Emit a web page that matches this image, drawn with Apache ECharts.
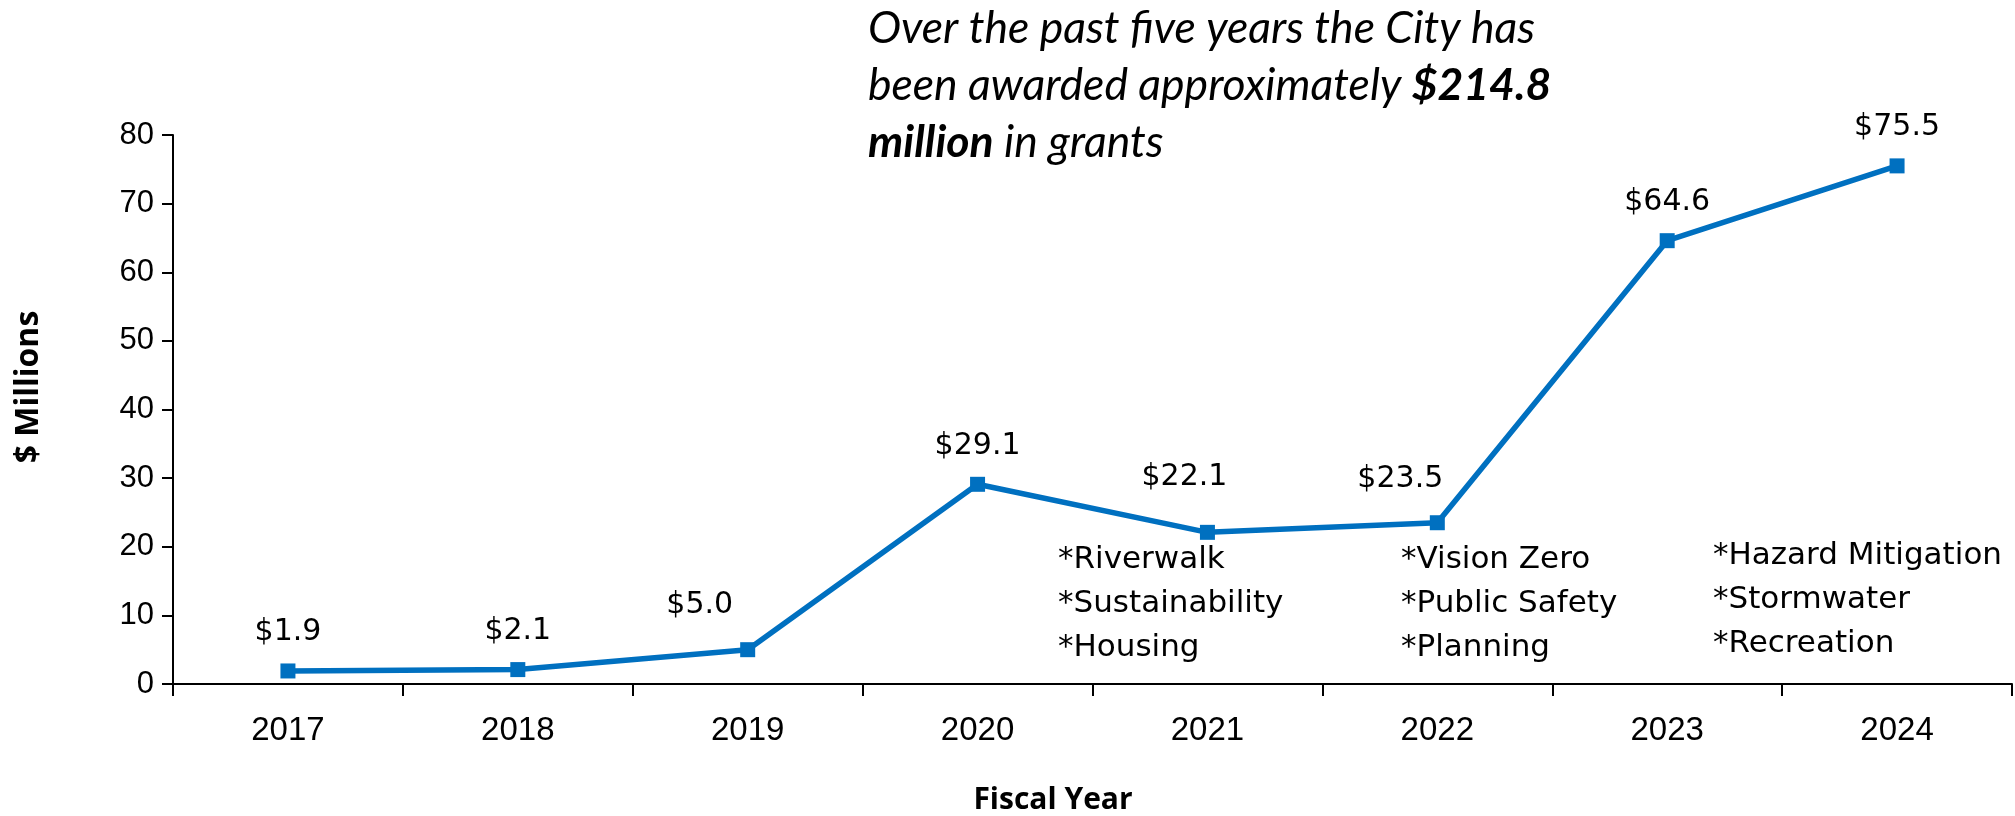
<!DOCTYPE html>
<html>
<head>
<meta charset="utf-8">
<title>City Grants Awarded by Fiscal Year</title>
<script src="https://cdn.jsdelivr.net/npm/echarts@6/dist/echarts.min.js"></script>
<style>
  html, body { margin: 0; padding: 0; background: #ffffff; }
  #chart { width: 2015px; height: 816px; }
</style>
</head>
<body>
<div id="chart"></div>
<script>
// Grant awards per fiscal year, in millions of dollars
const fiscalYears = ['2017', '2018', '2019', '2020', '2021', '2022', '2023', '2024'];
const grantMillions = [1.9, 2.1, 5.0, 29.1, 22.1, 23.5, 64.6, 75.5];

// Value axis range
const yMin = 0;
const yMax = 80;
const yStep = 10;

// Grant program notes shown under the later years
const notes2021 = ['*Riverwalk', '*Sustainability', '*Housing'];
const notes2022 = ['*Vision Zero', '*Public Safety', '*Planning'];
const notes2024 = ['*Hazard Mitigation', '*Stormwater', '*Recreation'];

// Per-point nudges for the value labels so they clear the line
const labelShift = [[0, 0], [0, 0], [-48, -6], [0, 0], [-23, -17], [-37, -5], [0, 0], [0, 0]];

const blue = '#0070C0';
const labelFont = '"DejaVu Sans", "Open Sans", sans-serif';
const tickFont = '"Liberation Sans", Arial, sans-serif';
const boldFont = '"Open Sans", "Noto Sans", sans-serif';
const headlineFont = 'Lato, "Open Sans", sans-serif';

const chart = echarts.init(document.getElementById('chart'), null, { renderer: 'canvas' });

function noteBlock(lines, x, y) {
  return {
    type: 'text',
    left: x,
    top: y,
    silent: true,
    style: {
      text: lines.join('\n'),
      fontFamily: labelFont,
      fontSize: 31,
      lineHeight: 44,
      fill: '#000000'
    }
  };
}

const option = {
  backgroundColor: '#ffffff',
  animation: false,
  grid: { left: 173, right: 3, top: 135, bottom: 132, containLabel: false },
  xAxis: {
    type: 'category',
    data: fiscalYears,
    boundaryGap: true,
    axisLine: { show: true, lineStyle: { color: '#000000', width: 2 } },
    axisTick: { show: true, length: 12, lineStyle: { color: '#000000', width: 2 } },
    axisLabel: { color: '#000000', fontFamily: tickFont, fontSize: 33, margin: 30 },
    splitLine: { show: false }
  },
  yAxis: {
    type: 'value',
    min: yMin,
    max: yMax,
    interval: yStep,
    axisLine: { show: true, lineStyle: { color: '#000000', width: 2 } },
    axisTick: { show: true, length: 11, lineStyle: { color: '#000000', width: 2 } },
    axisLabel: { color: '#000000', fontFamily: tickFont, fontSize: 31, margin: 19 },
    splitLine: { show: false }
  },
  series: [{
    type: 'line',
    data: grantMillions.map((v, i) => ({ value: v, label: { offset: labelShift[i] } })),
    symbol: 'rect',
    symbolSize: 15,
    lineStyle: { color: blue, width: 5.5 },
    itemStyle: { color: blue },
    label: {
      show: true,
      position: 'top',
      distance: 16,
      color: '#000000',
      fontFamily: labelFont,
      fontSize: 30,
      formatter: p => '$' + p.value.toFixed(1)
    }
  }],
  graphic: [
    {
      type: 'text',
      left: 868,
      top: 0,
      silent: true,
      style: {
        text: 'Over the past five years the City has\nbeen awarded approximately {b|$214.8}\n{b|million} in grants',
        fontFamily: headlineFont,
        fontStyle: 'italic',
        fontSize: 44.5,
        lineHeight: 57,
        fill: '#000000',
        rich: {
          b: {
            fontFamily: headlineFont,
            fontStyle: 'italic',
            fontWeight: 'bold',
            fontSize: 44.5,
            lineHeight: 57,
            fill: '#000000'
          }
        }
      }
    },
    {
      type: 'text',
      x: 29,
      y: 387,
      rotation: Math.PI / 2,
      silent: true,
      style: {
        text: '$ Millions',
        fontFamily: boldFont,
        fontWeight: 'bold',
        fontSize: 32,
        fill: '#000000',
        align: 'center',
        verticalAlign: 'middle'
      }
    },
    {
      type: 'text',
      x: 1053,
      y: 800,
      silent: true,
      style: {
        text: 'Fiscal Year',
        fontFamily: boldFont,
        fontWeight: 'bold',
        fontSize: 30,
        fill: '#000000',
        align: 'center',
        verticalAlign: 'middle'
      }
    },
    noteBlock(notes2021, 1058, 538),
    noteBlock(notes2022, 1401, 538),
    noteBlock(notes2024, 1713, 534)
  ]
};

chart.setOption(option);
</script>
</body>
</html>
